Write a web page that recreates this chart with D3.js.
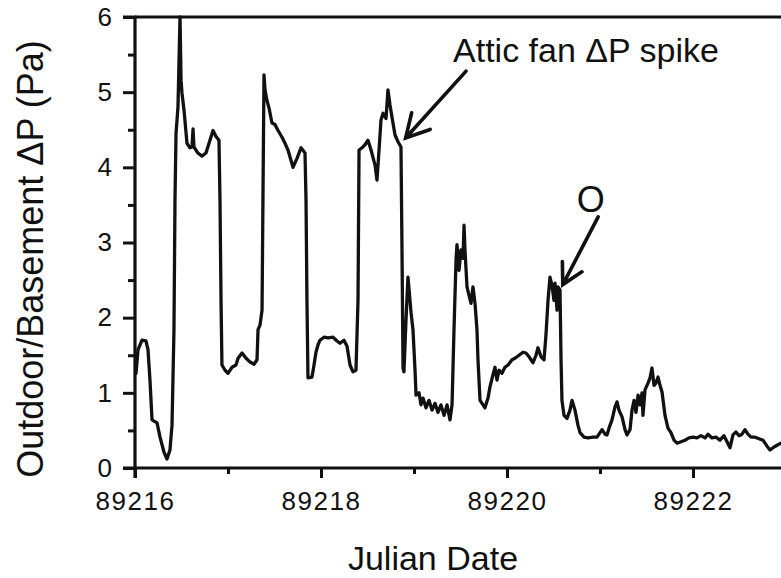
<!DOCTYPE html>
<html>
<head>
<meta charset="utf-8">
<script src="https://cdn.jsdelivr.net/npm/d3@7"></script>
<style>
html,body{margin:0;padding:0;background:#fff;}
svg{display:block;}
text{font-family:"Liberation Sans",Arial,Helvetica,sans-serif;fill:#111;}
</style>
</head>
<body>
<svg id="chart" width="781" height="578"></svg>
<script>
// ---- data ----
const dayOffset = [
0.011,0.032,0.075,0.118,0.140,0.161,0.183,0.237,0.269,0.312,0.344,0.376,0.398,0.419,0.430,0.441,0.462,0.484,0.495,0.505,
0.527,0.559,0.591,0.613,0.624,0.634,0.677,0.720,0.763,0.806,0.839,0.871,0.903,0.914,0.925,0.935,0.968,1.000,1.043,1.086,
1.108,1.151,1.194,1.237,1.280,1.312,1.323,1.344,1.366,1.387,1.398,1.419,1.441,1.473,1.505,1.538,1.581,1.613,1.645,1.699,
1.742,1.785,1.828,1.839,1.849,1.860,1.903,1.925,1.946,1.968,1.989,2.032,2.075,2.129,2.172,2.204,2.247,2.280,2.312,2.344,
2.376,2.398,2.409,2.441,2.473,2.505,2.538,2.581,2.602,2.624,2.645,2.667,2.699,2.720,2.742,2.763,2.796,2.828,2.860,2.871,
2.882,2.892,2.914,2.935,2.957,2.968,2.989,3.011,3.022,3.054,3.075,3.097,3.129,3.161,3.194,3.226,3.258,3.290,3.323,3.355,
3.387,3.409,3.430,3.452,3.462,3.484,3.505,3.527,3.538,3.548,3.570,3.591,3.613,3.634,3.656,3.677,3.688,3.710,3.742,3.763,
3.796,3.817,3.849,3.871,3.892,3.914,3.946,3.978,4.011,4.054,4.086,4.129,4.172,4.204,4.237,4.280,4.312,4.333,4.366,4.398,
4.419,4.441,4.462,4.484,4.505,4.516,4.538,4.548,4.570,4.581,4.591,4.613,4.645,4.677,4.699,4.731,4.763,4.785,4.828,4.871,
4.925,4.968,5.000,5.022,5.054,5.075,5.097,5.129,5.161,5.183,5.204,5.237,5.269,5.290,5.323,5.344,5.366,5.387,5.409,5.430,
5.452,5.462,5.484,5.516,5.538,5.559,5.581,5.602,5.624,5.645,5.667,5.699,5.731,5.763,5.796,5.828,5.871,5.914,5.957,6.000,
6.043,6.086,6.129,6.161,6.204,6.247,6.290,6.333,6.366,6.398,6.430,6.462,6.495,6.527,6.559,6.591,6.624,6.667,6.710,6.753,
6.796,6.828,6.871,6.914,6.946
];
const deltaP = [
1.26,1.57,1.70,1.69,1.57,1.17,0.64,0.60,0.41,0.21,0.12,0.24,0.57,1.84,3.56,4.45,4.80,6.00,5.16,4.99,
4.76,4.32,4.26,4.27,4.51,4.27,4.19,4.15,4.19,4.36,4.49,4.41,4.36,3.56,2.23,1.37,1.30,1.26,1.34,1.37,
1.46,1.53,1.46,1.41,1.38,1.44,1.84,1.90,2.10,5.23,5.03,4.89,4.79,4.59,4.57,4.49,4.40,4.32,4.23,4.00,
4.12,4.26,4.19,3.56,2.23,1.20,1.21,1.37,1.54,1.64,1.70,1.74,1.73,1.74,1.69,1.66,1.70,1.62,1.37,1.28,
1.30,2.23,4.23,4.26,4.30,4.36,4.23,4.03,3.83,4.23,4.63,4.72,4.65,5.03,4.83,4.67,4.43,4.34,4.27,2.90,
1.33,1.28,1.97,2.54,2.23,2.07,1.84,1.30,0.97,1.00,0.84,0.93,0.80,0.90,0.77,0.86,0.74,0.84,0.70,0.84,
0.64,0.84,1.84,2.77,2.97,2.63,2.90,2.79,3.23,2.90,2.41,2.30,2.19,2.41,2.19,1.84,1.44,0.90,0.84,0.80,
0.93,1.08,1.24,1.34,1.17,1.30,1.26,1.34,1.37,1.44,1.46,1.50,1.54,1.53,1.48,1.40,1.50,1.60,1.48,1.44,
1.77,2.23,2.54,2.43,2.23,2.46,2.10,2.41,2.37,1.44,0.90,0.70,0.66,0.77,0.90,0.77,0.57,0.47,0.41,0.40,
0.41,0.41,0.47,0.51,0.45,0.44,0.53,0.64,0.81,0.88,0.77,0.68,0.51,0.44,0.51,0.77,0.90,0.74,0.97,0.84,
1.00,0.70,1.04,1.13,1.20,1.33,1.10,1.13,1.21,1.10,1.01,0.70,0.53,0.47,0.37,0.33,0.35,0.37,0.40,0.41,
0.40,0.43,0.40,0.45,0.40,0.41,0.37,0.43,0.35,0.27,0.44,0.48,0.43,0.45,0.51,0.45,0.41,0.41,0.39,0.37,
0.29,0.24,0.28,0.31,0.33
];
const startDate = 89216;
const xTickValues = [89216, 89218, 89220, 89222];
const xMinorTickValues = [89217, 89219, 89221];
const yTickValues = [0, 1, 2, 3, 4, 5, 6];
const yMinorTickValues = [0.5, 1.5, 2.5, 3.5, 4.5, 5.5];
const xTitle = "Julian Date";
const yTitle = "Outdoor/Basement \u0394P (Pa)";
// annotations in data units: label, label position, arrow tail, arrow tip
const annotationLabels = ["Attic fan \u0394P spike", "O"];
const annotationLabelX = [89219.42, 89220.90];
const annotationLabelY = [5.40, 3.40];
const annotationTailX = [89219.56, 89220.98];
const annotationTailY = [5.28, 3.34];
const annotationTipX = [89218.91, 89220.60];
const annotationTipY = [4.39, 2.44];

// ---- chart ----
(function () {
const svg = d3.select("#chart");
const mLeft = 135, mTop = 17, mBottom = 468, dayPx = 93;
const x = d3.scaleLinear().domain([89216, 89223]).range([mLeft, mLeft + 7 * dayPx]);
const y = d3.scaleLinear().domain([0, 6]).range([mBottom, mTop]);

svg.append("rect").attr("width", 781).attr("height", 578).attr("fill", "#fff");

const data = dayOffset.map((d, i) => ({ x: startDate + d, y: deltaP[i] }));

// frame (top & right)
svg.append("path")
  .attr("d", `M${x(89216)},${y(6)}H${x(89223)}V${y(0)}`)
  .attr("fill", "none").attr("stroke", "#111").attr("stroke-width", 3.2);

// axes
const yAxis = d3.axisLeft(y).tickValues(yTickValues).tickSize(12).tickPadding(11).tickFormat(d3.format("d"));
const gy = svg.append("g").attr("transform", `translate(${mLeft},0)`).call(yAxis);
const yMinor = d3.axisLeft(y).tickValues(yMinorTickValues).tickSize(7).tickFormat("");
const gym = svg.append("g").attr("transform", `translate(${mLeft},0)`).call(yMinor);

const xAxis = d3.axisBottom(x).tickValues(xTickValues).tickSize(10).tickPadding(14).tickFormat(d3.format("d"));
const gx = svg.append("g").attr("transform", `translate(0,${mBottom})`).call(xAxis);
const xMinor = d3.axisBottom(x).tickValues(xMinorTickValues).tickSize(6).tickFormat("");
const gxm = svg.append("g").attr("transform", `translate(0,${mBottom})`).call(xMinor);

[gy, gym, gx, gxm].forEach(g => {
  g.select(".domain").attr("stroke", "#111").attr("stroke-width", 3.2);
  g.selectAll(".tick line").attr("stroke", "#111").attr("stroke-width", 3);
  g.selectAll(".tick text").style("font-size", "26px").attr("fill", "#111")
    .style("font-family", "'Liberation Sans', Arial, sans-serif");
});
gx.selectAll(".tick text").style("letter-spacing", "1.5px");
gym.select(".domain").remove();
gxm.select(".domain").remove();
gx.select(".domain").attr("d", `M${mLeft - 12},0H${x(89223)}`);
gy.select(".domain").attr("d", `M0,${y(0) + 10}V${mTop}H-12`);

// data line
const line = d3.line().x(d => x(d.x)).y(d => y(d.y));
svg.append("path").datum(data)
  .attr("d", line)
  .attr("fill", "none").attr("stroke", "#111").attr("stroke-width", 3.3)
  .attr("stroke-linejoin", "round").attr("stroke-linecap", "round");

// titles
svg.append("text").attr("x", 433).attr("y", 570).attr("text-anchor", "middle")
  .style("font-size", "34px").text(xTitle);
svg.append("text").attr("transform", `translate(43,259) rotate(-90)`).attr("text-anchor", "middle")
  .style("font-size", "36px").text(yTitle);

// annotations
annotationLabels.forEach((lab, i) => {
  svg.append("text").attr("x", x(annotationLabelX[i])).attr("y", y(annotationLabelY[i]))
    .attr("text-anchor", i === 0 ? "start" : "middle")
    .style("font-size", i === 0 ? "34px" : "36px").text(lab);
  const x1 = x(annotationTailX[i]), y1 = y(annotationTailY[i]);
  const x2 = x(annotationTipX[i]), y2 = y(annotationTipY[i]);
  const ang = Math.atan2(y2 - y1, x2 - x1);
  const L = i === 0 ? 26 : 23, spread = 0.5;
  const b1 = [x2 - L * Math.cos(ang - spread), y2 - L * Math.sin(ang - spread)];
  const b2 = [x2 - L * Math.cos(ang + spread), y2 - L * Math.sin(ang + spread)];
  svg.append("path")
    .attr("d", `M${x1},${y1}L${x2},${y2}M${b1[0]},${b1[1]}L${x2},${y2}L${b2[0]},${b2[1]}`)
    .attr("fill", "none").attr("stroke", "#111").attr("stroke-width", 3.6)
    .attr("stroke-linecap", "round").attr("stroke-linejoin", "miter");
});
})();
</script>
</body>
</html>
